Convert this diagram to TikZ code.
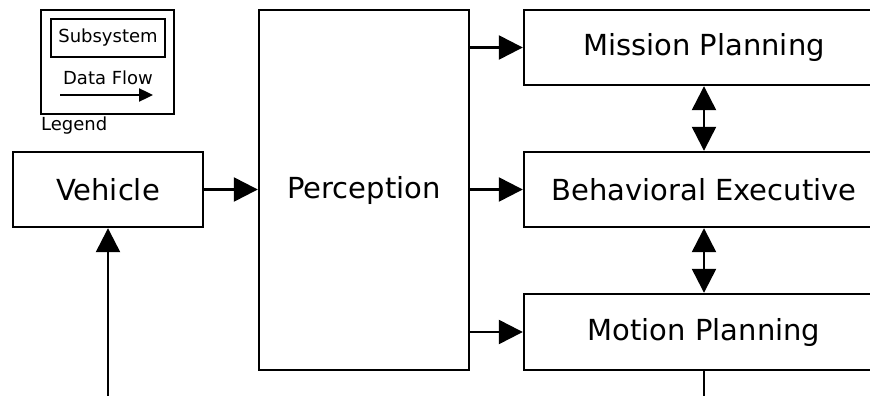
\documentclass[tikz,border=0pt]{standalone}
\usepackage{fontspec}
\setmainfont{DejaVu Sans}
\usetikzlibrary{arrows.meta}
\begin{document}
\begin{tikzpicture}[x=1pt,y=-1pt,
  box/.style={draw,line width=2.4pt,inner sep=0pt,font=\fontsize{29}{33}\selectfont},
  smallbox/.style={draw,line width=2.4pt,inner sep=0pt,font=\fontsize{18}{21}\selectfont},
  flow/.style={line width=2.4pt,-{Triangle[length=24pt,width=24pt]}},
  dflow/.style={line width=2.4pt,{Triangle[length=24pt,width=24pt]}-{Triangle[length=24pt,width=24pt]}},
  lflow/.style={line width=2.4pt,-{Triangle[length=14pt,width=13pt]}},
  small/.style={inner sep=0pt,font=\fontsize{18}{21}\selectfont}]
\clip (0,0) rectangle (870,396);
\fill[white] (0,0) rectangle (870,396);
% legend
\node[smallbox,minimum width=133pt,minimum height=104pt] (leg) at (107.5,62) {};
\node[smallbox,minimum width=114pt,minimum height=38pt] (sub) at (108,38) {Subsystem};
\node[small] (df) at (108,78) {Data Flow};
\coordinate (la) at (60,95);
\coordinate (lb) at (153,95);
\draw[lflow] (la) -- (lb);
\node[small,anchor=west] (legtxt) at (41,126) {Legend};
% main boxes
\node[box,minimum width=190pt,minimum height=75pt] (veh) at (108,189.5) {Vehicle};
\node[box,minimum width=210pt,minimum height=360pt] (per) at (364,190) {Perception};
\node[box,minimum width=360pt,minimum height=75pt] (mis) at (704,47.5) {Mission Planning};
\node[box,minimum width=360pt,minimum height=75pt] (beh) at (704,189.5) {Behavioral Executive};
\node[box,minimum width=360pt,minimum height=76pt] (mot) at (704,332) {Motion Planning};
% connectors
\draw[flow] (veh.east) -- (veh.east -| per.west);
\draw[flow] (per.east |- mis.west) -- (mis.west);
\draw[flow] (per.east |- beh.west) -- (beh.west);
\draw[flow] (per.east |- mot.west) -- (mot.west);
\draw[dflow] (mis.south) -- (beh.north);
\draw[dflow] (beh.south) -- (mot.north);
\coordinate (vin) at (108,420);
\coordinate (mout) at (704,420);
\draw[flow] (vin) -- (veh.south);
\draw[line width=2.4pt] (mot.south) -- (mout);
\end{tikzpicture}
\end{document}
